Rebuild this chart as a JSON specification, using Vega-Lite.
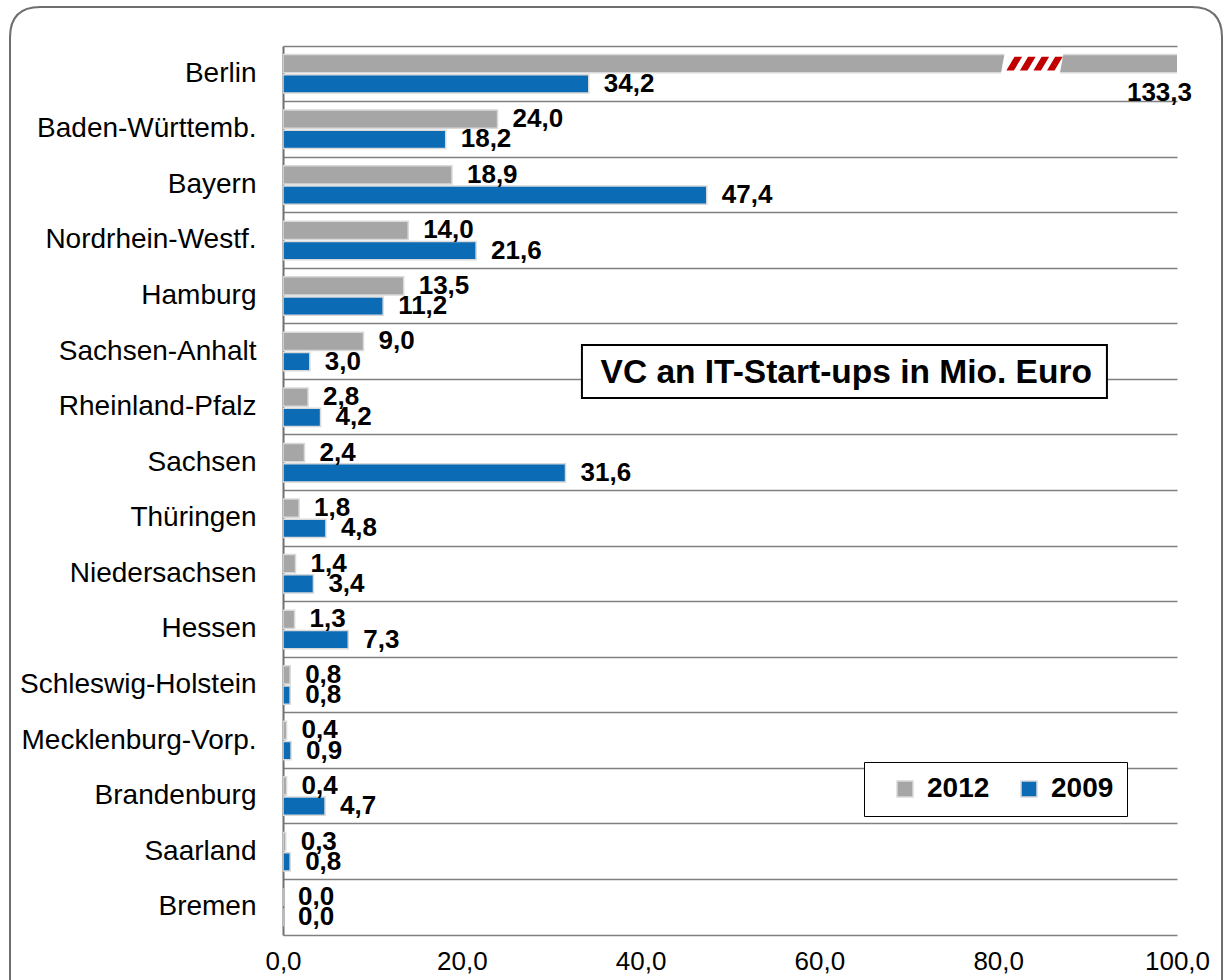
{
  "$schema": "https://vega.github.io/schema/vega-lite/v6.json",
  "width": 894,
  "height": 889,
  "autosize": {"type": "none"},
  "padding": {"left": 283, "top": 46, "right": 55, "bottom": 45},
  "background": "white",
  "config": {
    "locale": {"number": {"decimal": ",", "thousands": ".", "grouping": [3], "currency": ["", " €"]}},
    "font": "Liberation Sans",
    "view": {"stroke": null}
  },
  "datasets": {
    "vc": [
      {"land": "Berlin", "year": "2012", "value": 133.3},
      {"land": "Berlin", "year": "2009", "value": 34.2},
      {"land": "Baden-Württemb.", "year": "2012", "value": 24.0},
      {"land": "Baden-Württemb.", "year": "2009", "value": 18.2},
      {"land": "Bayern", "year": "2012", "value": 18.9},
      {"land": "Bayern", "year": "2009", "value": 47.4},
      {"land": "Nordrhein-Westf.", "year": "2012", "value": 14.0},
      {"land": "Nordrhein-Westf.", "year": "2009", "value": 21.6},
      {"land": "Hamburg", "year": "2012", "value": 13.5},
      {"land": "Hamburg", "year": "2009", "value": 11.2},
      {"land": "Sachsen-Anhalt", "year": "2012", "value": 9.0},
      {"land": "Sachsen-Anhalt", "year": "2009", "value": 3.0},
      {"land": "Rheinland-Pfalz", "year": "2012", "value": 2.8},
      {"land": "Rheinland-Pfalz", "year": "2009", "value": 4.2},
      {"land": "Sachsen", "year": "2012", "value": 2.4},
      {"land": "Sachsen", "year": "2009", "value": 31.6},
      {"land": "Thüringen", "year": "2012", "value": 1.8},
      {"land": "Thüringen", "year": "2009", "value": 4.8},
      {"land": "Niedersachsen", "year": "2012", "value": 1.4},
      {"land": "Niedersachsen", "year": "2009", "value": 3.4},
      {"land": "Hessen", "year": "2012", "value": 1.3},
      {"land": "Hessen", "year": "2009", "value": 7.3},
      {"land": "Schleswig-Holstein", "year": "2012", "value": 0.8},
      {"land": "Schleswig-Holstein", "year": "2009", "value": 0.8},
      {"land": "Mecklenburg-Vorp.", "year": "2012", "value": 0.4},
      {"land": "Mecklenburg-Vorp.", "year": "2009", "value": 0.9},
      {"land": "Brandenburg", "year": "2012", "value": 0.4},
      {"land": "Brandenburg", "year": "2009", "value": 4.7},
      {"land": "Saarland", "year": "2012", "value": 0.3},
      {"land": "Saarland", "year": "2009", "value": 0.8},
      {"land": "Bremen", "year": "2012", "value": 0.0},
      {"land": "Bremen", "year": "2009", "value": 0.0}
    ],
    "titel": [{"label": "VC an IT-Start-ups in Mio. Euro"}]
  },
  "data": {"name": "vc"},
  "layer": [
    {
      "mark": {"type": "bar", "clip": true, "stroke": "#d9d9d9", "strokeWidth": 1.5},
      "encoding": {
        "y": {
          "field": "land", "type": "nominal", "sort": null,
          "scale": {"paddingInner": 0, "paddingOuter": 0},
          "axis": {
            "title": null, "ticks": false, "labelPadding": 27, "labelFontSize": 28,
            "labelColor": "#000", "labelLimit": 400, "grid": true, "gridColor": "#808080",
            "gridWidth": 1.5, "bandPosition": 0, "domainColor": "#707070", "domainWidth": 2
          }
        },
        "yOffset": {
          "field": "year", "type": "nominal", "sort": ["2012", "2009"],
          "scale": {"paddingInner": 0.1, "paddingOuter": 0.42}
        },
        "x": {
          "field": "value", "type": "quantitative",
          "scale": {"domain": [0, 100], "nice": false},
          "axis": {
            "title": null, "ticks": false, "grid": false, "format": ".1f",
            "values": [0, 20, 40, 60, 80, 100], "labelFontSize": 26, "labelPadding": 13,
            "labelColor": "#000", "domainColor": "#808080", "domainWidth": 1.5,
            "labelFlush": false, "labelOverlap": false
          }
        },
        "color": {
          "field": "year", "type": "nominal",
          "scale": {"domain": ["2012", "2009"], "range": ["#a6a6a6", "#0b6bb4"]},
          "legend": {
            "title": null, "orient": "none", "legendX": 581, "legendY": 716,
            "direction": "horizontal", "symbolType": "square", "symbolSize": 256,
            "labelFontSize": 28, "labelFontWeight": "bold", "labelColor": "#000",
            "strokeColor": "#000", "fillColor": "white", "padding": 13,
            "columnPadding": 11, "labelOffset": 8, "symbolOffset": 14,
            "symbolStrokeColor": "#d9d9d9", "symbolStrokeWidth": 1.5
          }
        }
      }
    },
    {
      "transform": [{"filter": "datum.value <= 100"}],
      "mark": {"type": "text", "align": "left", "baseline": "middle", "dx": 15, "fontSize": 26, "fontWeight": "bold", "fill": "#000"},
      "encoding": {
        "y": {"field": "land", "type": "nominal", "sort": null},
        "yOffset": {"field": "year", "type": "nominal", "sort": ["2012", "2009"]},
        "x": {"field": "value", "type": "quantitative"},
        "text": {"field": "value", "type": "quantitative", "format": ".1f"}
      }
    },
    {
      "transform": [{"filter": "datum.value > 100"}],
      "mark": {"type": "text", "align": "right", "baseline": "middle", "dx": 15, "dy": 29, "fontSize": 26, "fontWeight": "bold", "fill": "#000"},
      "encoding": {
        "y": {"field": "land", "type": "nominal", "sort": null},
        "yOffset": {"field": "year", "type": "nominal", "sort": ["2012", "2009"]},
        "x": {"datum": 100, "type": "quantitative"},
        "text": {"field": "value", "type": "quantitative", "format": ".1f"}
      }
    },
    {
      "transform": [{"filter": "datum.value > 100"}],
      "mark": {"type": "point", "filled": true, "fill": "white", "opacity": 1, "strokeWidth": 0, "size": 3969, "shape": "M-1,0.35L-0.87,-0.35L1,-0.35L0.87,0.35Z"},
      "encoding": {
        "y": {"field": "land", "type": "nominal", "sort": null},
        "yOffset": {"field": "year", "type": "nominal", "sort": ["2012", "2009"]},
        "x": {"datum": 83.8, "type": "quantitative"}
      }
    },
    {
      "transform": [{"filter": "datum.value > 100"}],
      "mark": {"type": "point", "filled": true, "fill": "#c00000", "opacity": 1, "strokeWidth": 0, "size": 3969, "shape": "M-0.82,0.22L-0.56,-0.22L-0.32,-0.22L-0.58,0.22Z M-0.39,0.22L-0.13,-0.22L0.11,-0.22L-0.15,0.22Z M0.04,0.22L0.3,-0.22L0.54,-0.22L0.28,0.22Z M0.47,0.22L0.73,-0.22L0.97,-0.22L0.71,0.22Z"},
      "encoding": {
        "y": {"field": "land", "type": "nominal", "sort": null},
        "yOffset": {"field": "year", "type": "nominal", "sort": ["2012", "2009"]},
        "x": {"datum": 83.8, "type": "quantitative"}
      }
    },
    {
      "data": {"name": "titel"},
      "mark": {"type": "point", "filled": true, "fill": "white", "stroke": "#000", "strokeWidth": 2, "opacity": 1, "size": 275625, "yOffset": 20, "shape": "M-1,-0.101L1,-0.101L1,0.101L-1,0.101Z"},
      "encoding": {
        "y": {"datum": "Sachsen-Anhalt", "type": "nominal"},
        "x": {"datum": 62.8, "type": "quantitative"}
      }
    },
    {
      "data": {"name": "titel"},
      "mark": {"type": "text", "align": "center", "baseline": "middle", "yOffset": 21, "fontSize": 33.5, "fontWeight": "bold", "fill": "#000"},
      "encoding": {
        "y": {"datum": "Sachsen-Anhalt", "type": "nominal"},
        "x": {"datum": 63.0, "type": "quantitative"},
        "text": {"field": "label", "type": "nominal"}
      }
    },
    {
      "data": {"name": "titel"},
      "mark": {"type": "point", "filled": false, "stroke": "#6e6e6e", "strokeWidth": 2, "opacity": 1, "size": 1468944, "yOffset": -15, "shape": "M-0.95,-0.819L0.95,-0.819Q1,-0.819 1,-0.769L1,0.819L-1,0.819L-1,-0.769Q-1,-0.819 -0.95,-0.819Z"},
      "encoding": {
        "y": {"datum": "Thüringen", "type": "nominal"},
        "x": {"datum": 37.25, "type": "quantitative"}
      }
    }
  ]
}
